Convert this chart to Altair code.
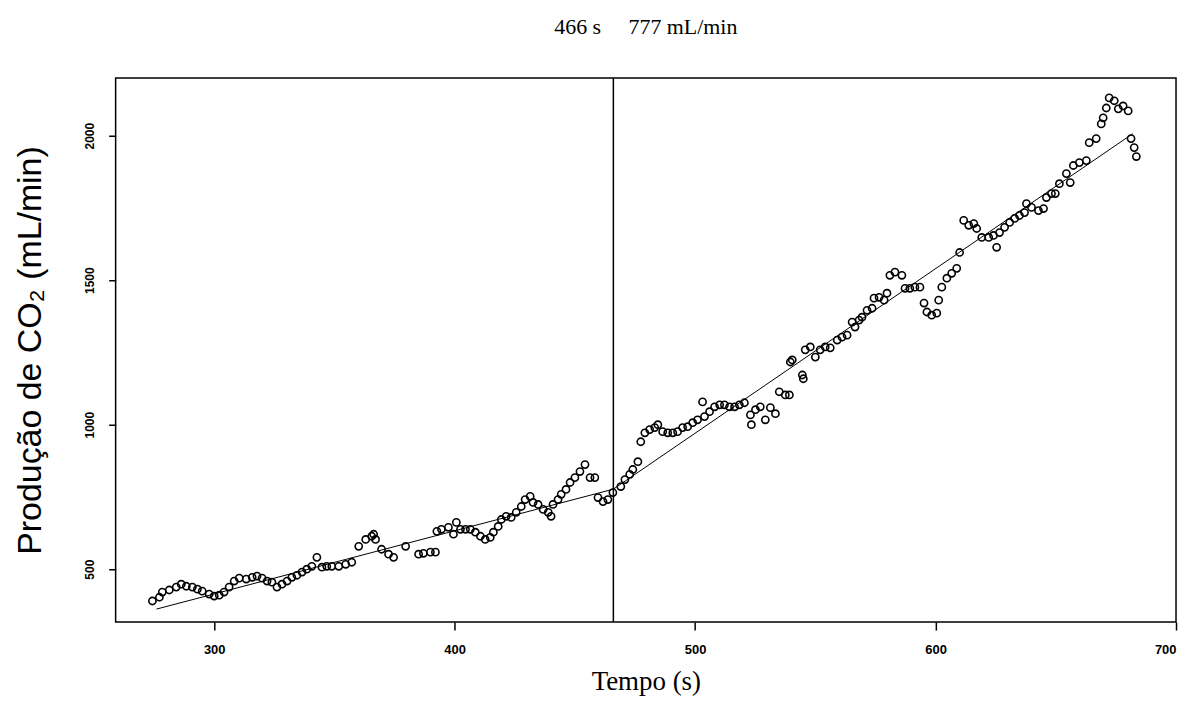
import altair as alt
import pandas as pd

# Scatter data: time (s) and CO2 production (mL/min)
time_s = [
    274.3, 277.2, 278.4, 281.3, 284.2, 286.3, 288.4, 290.9, 293.0, 295.0,
    297.9, 300.0, 302.1, 304.1, 306.2, 308.3, 310.4, 313.3, 315.8, 317.8,
    319.9, 322.0, 324.0, 326.1, 328.2, 330.3, 332.3, 334.4, 336.5, 338.5,
    340.6, 342.7, 344.8, 346.8, 348.9, 351.8, 354.7, 357.2, 360.1, 363.0,
    365.5, 366.3, 367.1, 369.6, 372.5, 374.6, 379.6, 385.0, 387.0, 389.9,
    392.0, 392.6, 394.5, 397.4, 399.5, 400.7, 402.4, 404.5, 406.5, 408.6,
    410.7, 412.7, 414.8, 416.1, 418.1, 419.4, 421.4, 423.5, 425.6, 427.7,
    429.3, 431.4, 432.6, 434.7, 436.8, 438.9, 440.1, 440.9, 443.0, 444.3,
    446.3, 448.0, 450.0, 452.1, 454.2, 456.3, 458.3, 459.6, 461.7, 463.7,
    465.8, 469.1, 470.8, 472.8, 474.1, 476.2, 477.4, 479.1, 481.1, 483.2,
    484.5, 486.5, 488.6, 490.7, 492.7, 494.8, 496.9, 499.0, 501.0, 503.1,
    503.9, 506.0, 508.1, 510.2, 512.2, 514.3, 516.4, 518.4, 520.5, 523.0,
    523.4, 525.1, 527.1, 529.2, 531.3, 533.4, 535.0, 537.5, 539.2, 539.6,
    540.4, 544.6, 545.0, 545.8, 547.9, 550.0, 552.0, 554.1, 556.2, 559.1,
    561.1, 563.2, 565.3, 566.5, 568.2, 569.4, 571.5, 573.6, 574.4, 576.5,
    578.6, 579.8, 581.0, 583.1, 586.0, 587.3, 589.3, 591.4, 593.5, 595.2,
    596.4, 598.4, 600.5, 601.3, 602.6, 604.7, 606.7, 608.8, 610.0, 611.7,
    613.8, 615.9, 617.1, 619.2, 622.1, 624.1, 625.4, 626.6, 628.7, 630.8,
    632.9, 634.9, 637.0, 637.8, 639.9, 642.8, 644.9, 646.1, 648.2, 649.8,
    651.5, 654.4, 656.0, 657.3, 659.8, 662.7, 663.9, 666.8, 668.9, 669.7,
    671.0, 672.2, 674.3, 676.0, 678.0, 680.1, 681.3, 682.6, 683.5,
]
vco2 = [
    390, 403, 421, 428, 438, 448, 441, 438, 431, 424,
    414, 407, 410, 421, 438, 459, 469, 466, 472, 476,
    469, 459, 455, 438, 448, 459, 472, 479, 490, 500,
    510, 541, 507, 510, 510, 510, 517, 524, 579, 603,
    614, 621, 603, 569, 552, 541, 579, 552, 555, 559,
    559, 631, 638, 645, 621, 662, 638, 638, 638, 628,
    614, 603, 610, 628, 648, 672, 683, 679, 697, 717,
    741, 752, 731, 724, 707, 697, 683, 724, 741, 759,
    776, 800, 817, 838, 862, 817, 817, 748, 734, 741,
    765, 786, 810, 828, 845, 872, 941, 972, 983, 990,
    1000, 976, 972, 972, 976, 990, 993, 1007, 1017, 1079,
    1028, 1045, 1062, 1069, 1069, 1062, 1062, 1069, 1076, 1034,
    1000, 1052, 1062, 1017, 1059, 1038, 1114, 1103, 1103, 1217,
    1224, 1172, 1159, 1259, 1269, 1234, 1259, 1269, 1266, 1293,
    1303, 1310, 1355, 1338, 1362, 1372, 1396, 1403, 1438, 1441,
    1431, 1455, 1517, 1528, 1517, 1472, 1472, 1476, 1476, 1421,
    1390, 1379, 1386, 1431, 1476, 1507, 1524, 1541, 1596, 1707,
    1690, 1696, 1679, 1648, 1648, 1655, 1614, 1665, 1683, 1700,
    1714, 1724, 1734, 1765, 1752, 1741, 1748, 1786, 1800, 1800,
    1834, 1869, 1838, 1897, 1907, 1914, 1976, 1990, 2041, 2062,
    2096, 2131, 2121, 2093, 2103, 2086, 1990, 1959, 1928,
]

# Two-segment fitted line and breakpoint
fit_time = [276, 466, 682]
fit_vco2 = [362, 777, 2007]
break_time = [466]
break_vco2 = [777]

x_ticks = [300, 400, 500, 600, 700]
y_ticks = [500, 1000, 1500, 2000]

pts = pd.DataFrame({"t": time_s, "v": vco2})
fit = pd.DataFrame({"t": fit_time, "v": fit_vco2})
brk = pd.DataFrame({"t": break_time})

xscale = alt.Scale(domain=[259, 700], nice=False, zero=False)
yscale = alt.Scale(domain=[317, 2200], nice=False, zero=False)

xaxis = alt.Axis(
    values=x_ticks, format="d", title="Tempo (s)", grid=False, domain=False,
    tickSize=8, tickColor="black", tickWidth=1.5,
    labelFont="Liberation Sans", labelFontSize=13, labelFontWeight="bold",
    labelColor="black", labelPadding=14,
    titleFont="Liberation Serif", titleFontSize=27, titleFontWeight="normal",
    titleColor="black", titlePadding=12,
)
yaxis = alt.Axis(
    values=y_ticks, format="d", title="Produção de CO₂ (mL/min)", grid=False,
    domain=False, tickSize=7, tickColor="black", tickWidth=1.5,
    labelFont="Liberation Sans", labelFontSize=12, labelFontWeight="bold",
    labelColor="black", labelAngle=270, labelAlign="center",
    labelBaseline="bottom", labelPadding=12,
    titleFont="Liberation Sans", titleFontSize=34, titleFontWeight="normal",
    titleColor="black", titlePadding=36,
)

points = alt.Chart(pts).mark_point(
    shape="circle", filled=False, size=52, strokeWidth=1.6, color="black", opacity=1
).encode(
    x=alt.X("t:Q", scale=xscale, axis=xaxis),
    y=alt.Y("v:Q", scale=yscale, axis=yaxis),
)

line = alt.Chart(fit).mark_line(color="black", strokeWidth=1).encode(
    x=alt.X("t:Q", scale=xscale),
    y=alt.Y("v:Q", scale=yscale),
)

rule = alt.Chart(brk).mark_rule(color="black", strokeWidth=1.5).encode(
    x=alt.X("t:Q", scale=xscale),
)

nb = "\u00a0"
title_text = f"{break_time[0]}{nb}s{nb*5}{break_vco2[0]}{nb}mL/min"

chart = alt.layer(points, line, rule).properties(
    width=1064,
    height=546,
    autosize=alt.AutoSizeParams(type="none"),
    padding={"left": 108, "top": 69, "right": 5, "bottom": 75},
    background="white",
    title=alt.TitleParams(
        text=title_text, font="Liberation Serif", fontSize=22,
        fontWeight="normal", color="black", anchor="middle", offset=38,
    ),
).configure_view(stroke="black", strokeWidth=1.5)

chart.save("out.html", embed_options={"renderer": "svg", "actions": False})
